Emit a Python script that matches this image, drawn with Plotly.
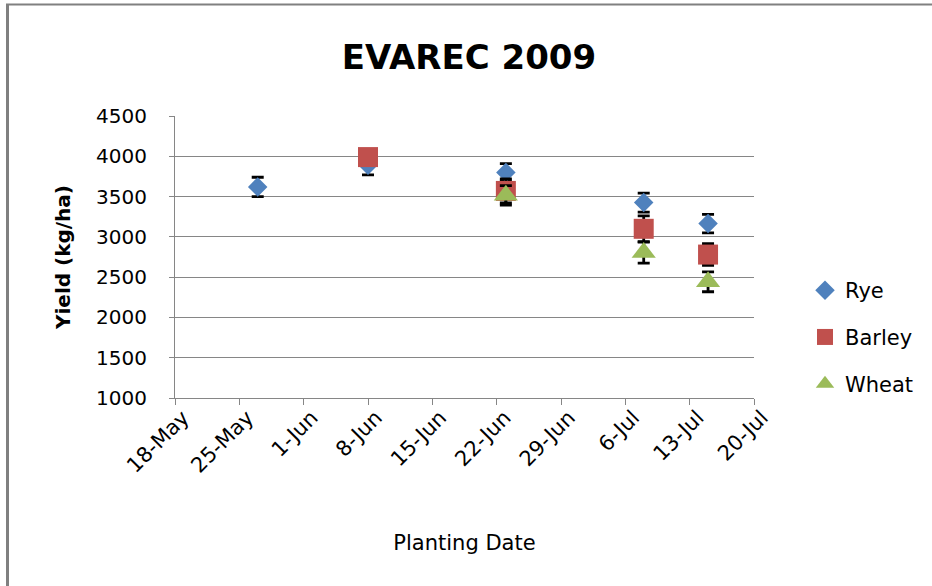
import plotly.graph_objects as go

# ---- data ----
tick_dates = ["2009-05-18", "2009-05-25", "2009-06-01", "2009-06-08", "2009-06-15",
              "2009-06-22", "2009-06-29", "2009-07-06", "2009-07-13", "2009-07-20"]
tick_labels = ["18-May", "25-May", "1-Jun", "8-Jun", "15-Jun",
               "22-Jun", "29-Jun", "6-Jul", "13-Jul", "20-Jul"]

rye_dates = ["2009-05-27", "2009-06-08", "2009-06-23", "2009-07-08", "2009-07-15"]
rye_yield = [3620, 3890, 3800, 3425, 3165]
rye_err = [120, 120, 108, 117, 115]

barley_dates = ["2009-06-08", "2009-06-23", "2009-07-08", "2009-07-15"]
barley_yield = [3990, 3570, 3100, 2780]
barley_err = [90, 150, 160, 135]

wheat_dates = ["2009-06-23", "2009-07-08", "2009-07-15"]
wheat_yield = [3515, 2805, 2442]
wheat_err = [120, 130, 123]

FONT = "DejaVu Sans"
GRID = "#868686"

fig = go.Figure()

def add(name, xs, ys, errs, color, symbol, size):
    fig.add_trace(go.Scatter(
        x=xs, y=ys, mode="markers", name=name, legendgroup=name,
        marker=dict(color=color, symbol=symbol, size=size, line=dict(width=0)),
        error_y=dict(type="data", array=errs, visible=True, color="black",
                     thickness=2.8, width=6),
    ))

add("Rye", rye_dates, rye_yield, rye_err, "#4F81BD", "diamond", 15)
add("Barley", barley_dates, barley_yield, barley_err, "#C0504D", "square", 20)
add("Wheat", wheat_dates, wheat_yield, wheat_err, "#9BBB59", "triangle-up", 21)

L, R, T, B = 175, 754, 116, 398
W, H = 932, 586

def px(x):
    return (x - L) / (R - L)

def py(y):
    return (B - y) / (B - T)

fig.update_layout(
    width=W, height=H, autosize=False,
    margin=dict(l=L, r=W - R, t=T, b=H - B, pad=0),
    paper_bgcolor="white", plot_bgcolor="white",
    font=dict(family=FONT, size=20, color="black"),
    title=dict(text="EVAREC 2009", x=469 / W, xref="container", xanchor="center",
               y=1 - 57 / H, yref="container", yanchor="middle",
               font=dict(family=FONT, size=34, weight="bold", color="black")),
    showlegend=True,
    legend=dict(x=px(805), y=py(270), xanchor="left", yanchor="top",
                traceorder="grouped", tracegroupgap=16.5, itemwidth=30,
                font=dict(family=FONT, size=21, color="black"),
                bgcolor="rgba(0,0,0,0)"),
    shapes=[
        dict(type="line", xref="paper", yref="paper", x0=px(7.5), x1=px(7.5),
             y0=py(4), y1=py(H + 5), line=dict(color="#808080", width=3)),
        dict(type="line", xref="paper", yref="paper", x0=px(6), x1=px(W + 5),
             y0=py(4.5), y1=py(4.5), line=dict(color="#808080", width=2)),
    ],
)

fig.update_xaxes(
    type="date", range=[tick_dates[0], tick_dates[-1]],
    tickmode="array", tickvals=tick_dates, ticktext=tick_labels,
    tickangle=-45, ticks="outside", ticklen=6, tickcolor=GRID, tickwidth=1,
    showline=True, linecolor=GRID, linewidth=1, showgrid=False, zeroline=False,
    tickfont=dict(family=FONT, size=21, color="black"),
    ticklabelshift=8, ticklabelstandoff=-8,
    title=dict(text="Planting Date", standoff=58,
               font=dict(family=FONT, size=21, color="black")),
    automargin=False,
)
fig.update_yaxes(
    range=[1000, 4500], tickmode="linear", tick0=1000, dtick=500,
    ticks="outside", ticklen=5, tickcolor=GRID, tickwidth=1,
    showline=True, linecolor=GRID, linewidth=1,
    showgrid=True, gridcolor=GRID, gridwidth=1.2, zeroline=False,
    tickfont=dict(family=FONT, size=20, color="black"),
    ticklabelstandoff=18,
    title=dict(text="Yield (kg/ha)", standoff=20,
               font=dict(family=FONT, size=20, weight="bold", color="black")),
    automargin=False,
)

# remove the default 8px page margin so the figure sits at the window origin
fig.write_html("out.html", config={"displayModeBar": False},
               post_script="document.body.style.margin='0';")
